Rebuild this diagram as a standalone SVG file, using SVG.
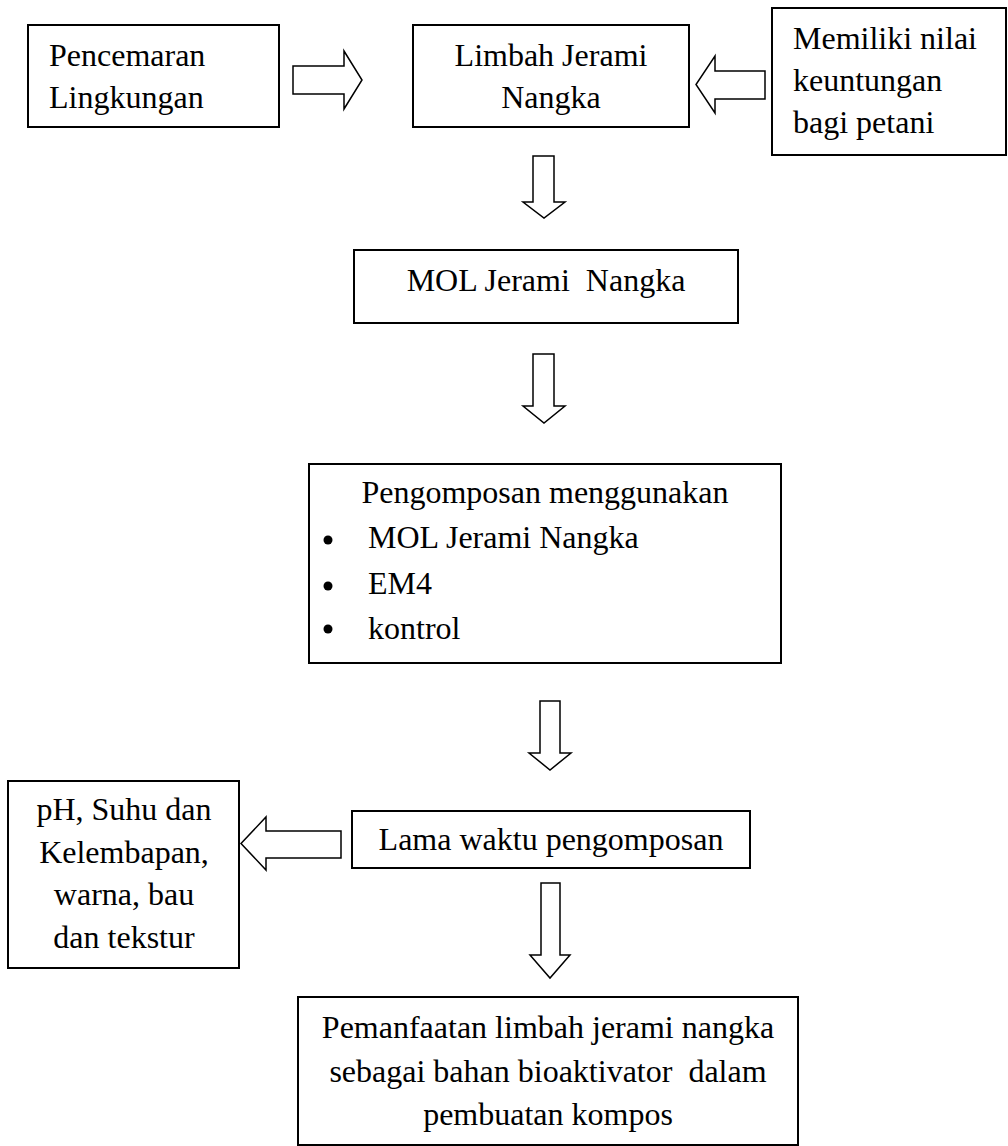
<svg xmlns="http://www.w3.org/2000/svg" width="1008" height="1146" viewBox="0 0 1008 1146">
<style>
.box{fill:#fff;stroke:#000;stroke-width:2}
.arr{fill:#fff;stroke:#000;stroke-width:1.5;stroke-linejoin:miter}
text{font-family:"Liberation Serif","Times New Roman",serif;font-size:32px;fill:#000}
.c{text-anchor:middle}
</style>
<rect width="1008" height="1146" fill="#fff"/>
<g id="connectors">
<path class="arr" d="M293,66 H344 V51 L362,80 L344,109 V94 H293 Z"/>
<path class="arr" d="M765,71 H715 V56 L696,84.5 L715,113 V99 H765 Z"/>
<path class="arr" d="M533,156 V202 H523 L544,218 L565,202 H554 V156 Z"/>
<path class="arr" d="M533,354 V406 H523 L544,423 L565,406 H554 V354 Z"/>
<path class="arr" d="M540,701 V753 H529 L550,770 L571,753 H560 V701 Z"/>
<path class="arr" d="M341,831 H266 V817 L241,843.5 L266,870 V858 H341 Z"/>
<path class="arr" d="M541,883 V955 H530 L550,978 L570,955 H560 V883 Z"/>
</g>
<g id="n-pencemaran">
<rect class="box" x="28" y="25" width="251" height="102"/>
<text x="49" y="66">Pencemaran</text>
<text x="49" y="108">Lingkungan</text>
</g>
<g id="n-limbah">
<rect class="box" x="413" y="25" width="276" height="102"/>
<text class="c" x="551" y="66">Limbah Jerami</text>
<text class="c" x="551" y="108">Nangka</text>
</g>
<g id="n-memiliki">
<rect class="box" x="772" y="8" width="234" height="147"/>
<text x="793" y="49">Memiliki nilai</text>
<text x="793" y="91">keuntungan</text>
<text x="793" y="133">bagi petani</text>
</g>
<g id="n-mol">
<rect class="box" x="354" y="250" width="384" height="73"/>
<text class="c" x="546" y="291" xml:space="preserve">MOL Jerami  Nangka</text>
</g>
<g id="n-pengomposan">
<rect class="box" x="309" y="464" width="472" height="199"/>
<text class="c" x="545" y="503">Pengomposan menggunakan</text>
<circle cx="328" cy="540" r="4.5"/>
<circle cx="328" cy="586" r="4.5"/>
<circle cx="328" cy="629" r="4.5"/>
<text x="368" y="548">MOL Jerami Nangka</text>
<text x="368" y="594">EM4</text>
<text x="368" y="639">kontrol</text>
</g>
<g id="n-lama">
<rect class="box" x="352" y="811" width="398" height="57"/>
<text class="c" x="551" y="850">Lama waktu pengomposan</text>
</g>
<g id="n-ph">
<rect class="box" x="8" y="781" width="231" height="187"/>
<text class="c" x="124" y="820">pH, Suhu dan</text>
<text class="c" x="124" y="863">Kelembapan,</text>
<text class="c" x="124" y="905">warna, bau</text>
<text class="c" x="124" y="948">dan tekstur</text>
</g>
<g id="n-pemanfaatan">
<rect class="box" x="298" y="997" width="500" height="148"/>
<text class="c" x="548" y="1038">Pemanfaatan limbah jerami nangka</text>
<text class="c" x="548" y="1082" xml:space="preserve">sebagai bahan bioaktivator  dalam</text>
<text class="c" x="548" y="1125">pembuatan kompos</text>
</g>
</svg>
